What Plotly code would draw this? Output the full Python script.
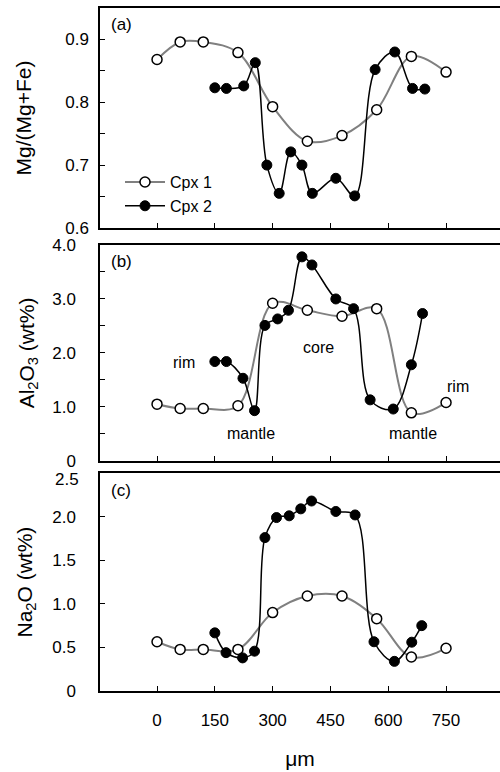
import plotly.graph_objects as go

# ---- data ----
x_cpx1 = [0, 60, 120, 210, 300, 390, 480, 570, 660, 750]

mg_cpx1 = [0.868, 0.896, 0.896, 0.879, 0.793, 0.738, 0.747, 0.788, 0.873, 0.848]
x_mg_cpx2 = [150, 180, 225, 255, 285, 317, 347, 376, 403, 464, 513, 566, 617, 663, 695]
mg_cpx2 = [0.823, 0.822, 0.826, 0.863, 0.700, 0.655, 0.721, 0.700, 0.655, 0.679, 0.651, 0.852, 0.880, 0.822, 0.821]

al_cpx1 = [1.05, 0.97, 0.97, 1.02, 2.92, 2.79, 2.68, 2.82, 0.89, 1.08]
x_al_cpx2 = [150, 180, 223, 253, 280, 313, 341, 376, 402, 464, 510, 553, 613, 660, 689]
al_cpx2 = [1.84, 1.84, 1.53, 0.93, 2.51, 2.63, 2.79, 3.78, 3.63, 3.00, 2.82, 1.13, 0.96, 1.78, 2.73]

na_cpx1 = [0.565, 0.477, 0.477, 0.477, 0.90, 1.09, 1.09, 0.83, 0.39, 0.49]
x_na_cpx2 = [150, 179, 222, 253, 280, 310, 343, 373, 401, 464, 514, 563, 616, 661, 687]
na_cpx2 = [0.667, 0.44, 0.38, 0.457, 1.76, 1.99, 2.01, 2.09, 2.18, 2.06, 2.02, 0.565, 0.34, 0.56, 0.75]

x_ticks = [0, 150, 300, 450, 600, 750]
mg_ticks = [0.6, 0.65, 0.7, 0.75, 0.8, 0.85, 0.9]
mg_labels = ["0.6", "", "0.7", "", "0.8", "", "0.9"]
al_ticks = [0, 0.5, 1, 1.5, 2, 2.5, 3, 3.5, 4]
al_labels = ["0", "", "1.0", "", "2.0", "", "3.0", "", "4.0"]
na_ticks = [0, 0.5, 1, 1.5, 2, 2.5]
na_labels = ["0", "0.5", "1.0", "1.5", "2.0", ""]
na_top_label = "2.5"

FONT = "Liberation Sans, Arial, sans-serif"

fig = go.Figure()

def add_pair(x1, y1, x2, y2, xa, ya, show):
    fig.add_trace(go.Scatter(
        x=x1, y=y1, mode="lines+markers", name="Cpx 1", showlegend=show,
        line=dict(color="#808080", width=2, shape="spline"),
        marker=dict(symbol="circle", size=10, color="white", line=dict(color="black", width=1.5)),
        xaxis=xa, yaxis=ya))
    fig.add_trace(go.Scatter(
        x=x2, y=y2, mode="lines+markers", name="Cpx 2", showlegend=show,
        line=dict(color="black", width=1.5, shape="spline"),
        marker=dict(symbol="circle", size=10, color="black", line=dict(color="black", width=1)),
        xaxis=xa, yaxis=ya))

add_pair(x_cpx1, mg_cpx1, x_mg_cpx2, mg_cpx2, "x", "y", True)
add_pair(x_cpx1, al_cpx1, x_al_cpx2, al_cpx2, "x2", "y2", False)
add_pair(x_cpx1, na_cpx1, x_na_cpx2, na_cpx2, "x3", "y3", False)

xrange = [-148, 890]
tickfont = dict(family=FONT, size=17, color="black")
titlefont = dict(family=FONT, size=21, color="black")

def xaxis(anchor, labels):
    return dict(domain=[0, 1], range=xrange, anchor=anchor, showline=True, linecolor="black",
                linewidth=1.5, mirror=True, ticks="inside", ticklen=5, tickcolor="black",
                tickvals=x_ticks, showticklabels=labels, tickfont=tickfont,
                showgrid=False, zeroline=False, ticklabelstandoff=13)

def yaxis(anchor, dom, rng, vals, texts, title, standoff_lbl, title_standoff):
    return dict(domain=dom, range=rng, anchor=anchor, showline=True, linecolor="black",
                linewidth=1.5, mirror=False, ticks="inside", ticklen=5, tickcolor="black",
                tickvals=vals, ticktext=texts, tickfont=tickfont, showgrid=False, zeroline=False,
                ticklabelstandoff=standoff_lbl,
                title=dict(text=title, font=titlefont, standoff=title_standoff))

fig.update_layout(
    width=500, height=772,
    margin=dict(l=100, r=0, t=8, b=81),
    paper_bgcolor="white", plot_bgcolor="white",
    font=dict(family=FONT, color="black"),
    xaxis=xaxis("y", False),
    xaxis2=xaxis("y2", False),
    xaxis3=dict(xaxis("y3", True),
                title=dict(text="μm", font=titlefont, standoff=22)),
    yaxis=yaxis("x", [0.678, 1.0], [0.6, 0.95], mg_ticks, mg_labels, "Mg/(Mg+Fe)", 6, 28),
    yaxis2=yaxis("x2", [0.337, 0.653], [0, 4.0], al_ticks, al_labels,
                  "Al<sub>2</sub>O<sub>3</sub> (wt%)", 19, 12),
    yaxis3=yaxis("x3", [0.0, 0.319], [0, 2.5], na_ticks, na_labels,
                  "Na<sub>2</sub>O (wt%)", 19, 14),
    legend=dict(x=0.05, y=0.77, xanchor="left", yanchor="top", bgcolor="rgba(0,0,0,0)",
                font=dict(family=FONT, size=16, color="black"), itemwidth=40,
                tracegroupgap=0),
    showlegend=True,
)

# top tick label of panel (c), drawn slightly below its tick as in the reference
fig.add_annotation(text=na_top_label, xref="x3 domain", yref="y3", x=0, y=2.5,
                   xanchor="right", yanchor="middle", xshift=-19, yshift=-6,
                   showarrow=False, font=tickfont)

ann_font = dict(family=FONT, size=16, color="black")
panel_font = dict(family=FONT, size=17, color="black")
panel_labels = [("(a)", "x", "y"), ("(b)", "x2", "y2"), ("(c)", "x3", "y3")]
for txt, xa, ya in panel_labels:
    fig.add_annotation(text=txt, xref=xa + " domain", yref=ya + " domain", x=0.022, y=0.975,
                       xanchor="left", yanchor="top", showarrow=False, font=panel_font)

labels_b = [("rim", 70, 1.83), ("core", 418, 2.1), ("mantle", 243, 0.5),
            ("mantle", 665, 0.5), ("rim", 782, 1.38)]
for txt, xv, yv in labels_b:
    fig.add_annotation(text=txt, x=xv, y=yv, xref="x2", yref="y2", showarrow=False, font=ann_font)

fig.write_html("out.html")
